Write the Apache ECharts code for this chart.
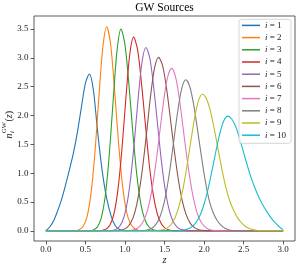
<!DOCTYPE html>
<html><head><meta charset="utf-8">
<script src="https://cdn.jsdelivr.net/npm/echarts@6/dist/echarts.min.js"></script>
<style>html,body{margin:0;padding:0;background:#fff}#c{width:299px;height:271px}</style>
</head><body><div id="c"></div>
<script>
const SERIES_NAMES = ['1','2','3','4','5','6','7','8','9','10'];
const COLORS = ['#1f77b4','#ff7f0e','#2ca02c','#d62728','#9467bd','#8c564b','#e377c2','#7f7f7f','#bcbd22','#17becf'];
const X_TICKS = [0,0.5,1,1.5,2,2.5,3];
const Y_TICKS = [0,0.5,1,1.5,2,2.5,3,3.5];

const Z1 = [0,0.05,0.10,0.15,0.20,0.25,0.30,0.35,0.40,0.45,0.50,0.55,0.60,0.65,0.70,0.75,0.80,0.85,0.90,0.95,1.0,3.0];
const V1 = [0,0.07,0.18,0.35,0.55,0.80,1.07,1.36,1.72,2.15,2.56,2.72,2.45,1.78,1.17,0.70,0.38,0.16,0.05,0.012,0,0];
const Z2 = [0,0.37,0.42,0.47,0.52,0.57,0.62,0.67,0.72,0.77,0.82,0.87,0.92,0.97,1.02,1.07,1.12,1.17,1.22,3.0];
const V2 = [0,0,0.02,0.074,0.24,0.64,1.35,2.31,3.18,3.54,3.22,2.42,1.51,0.78,0.33,0.12,0.04,0.01,0,0];
const Z3 = [0,0.55,0.60,0.65,0.70,0.75,0.80,0.85,0.90,0.95,1.00,1.05,1.10,1.15,1.20,1.25,1.30,1.35,1.40,1.45,3.0];
const V3 = [0,0,0.015,0.063,0.22,0.59,1.29,2.24,3.13,3.50,3.23,2.54,1.70,0.97,0.47,0.20,0.07,0.021,0.005,0,0];
const Z4 = [0,0.66,0.71,0.76,0.81,0.86,0.91,0.96,1.01,1.06,1.11,1.16,1.21,1.26,1.31,1.36,1.41,1.46,1.51,1.56,1.61,3.0];
const V4 = [0,0,0.006,0.028,0.10,0.29,0.70,1.39,2.27,3.05,3.36,3.14,2.55,1.82,1.12,0.61,0.29,0.12,0.042,0.013,0,0];
const Z5 = [0,0.815,0.865,0.915,0.965,1.015,1.065,1.115,1.165,1.215,1.265,1.315,1.365,1.415,1.465,1.515,1.565,1.615,1.665,1.715,1.765,1.815,3.0];
const V5 = [0,0,0.015,0.052,0.153,0.39,0.83,1.49,2.27,2.92,3.18,2.99,2.47,1.81,1.16,0.66,0.33,0.147,0.056,0.02,0.006,0,0];
const Z6 = [0,0.925,0.975,1.025,1.075,1.125,1.175,1.225,1.275,1.325,1.375,1.425,1.475,1.525,1.575,1.625,1.675,1.725,1.775,1.825,1.875,1.925,1.975,2.025,3.0];
const V6 = [0,0,0.02,0.056,0.143,0.32,0.64,1.12,1.72,2.35,2.83,3.01,2.87,2.48,1.94,1.38,0.89,0.52,0.275,0.132,0.058,0.023,0.008,0,0];
const Z7 = [0,1.04,1.09,1.14,1.19,1.24,1.29,1.34,1.39,1.44,1.49,1.54,1.59,1.64,1.69,1.74,1.79,1.84,1.89,1.94,1.99,2.04,2.09,2.14,2.19,3.0];
const V7 = [0,0,0.011,0.031,0.081,0.185,0.38,0.70,1.16,1.71,2.26,2.67,2.82,2.67,2.27,1.73,1.20,0.75,0.42,0.21,0.10,0.04,0.015,0.004,0,0];
const Z8 = [0,1.22,1.27,1.32,1.37,1.42,1.47,1.52,1.57,1.62,1.67,1.72,1.77,1.82,1.87,1.92,1.97,2.02,2.07,2.12,2.17,2.22,2.27,2.32,2.37,2.42,3.0];
const V8 = [0,0,0.010,0.029,0.075,0.172,0.354,0.65,1.08,1.59,2.10,2.48,2.62,2.50,2.18,1.73,1.26,0.83,0.50,0.30,0.17,0.09,0.04,0.015,0.005,0,0];
const Z9 = [0,1.38,1.43,1.48,1.53,1.58,1.63,1.68,1.73,1.78,1.83,1.88,1.93,1.98,2.03,2.08,2.13,2.18,2.23,2.28,2.33,2.38,2.43,2.48,2.53,2.58,2.63,2.68,2.73,3.0];
const V9 = [0,0,0.006,0.018,0.046,0.104,0.217,0.41,0.70,1.09,1.53,1.95,2.26,2.37,2.29,2.08,1.76,1.40,1.04,0.73,0.50,0.34,0.21,0.13,0.07,0.035,0.015,0.005,0,0];
const Z10 = [0,1.65,1.70,1.75,1.80,1.85,1.90,1.95,2.00,2.05,2.10,2.15,2.20,2.25,2.30,2.35,2.40,2.45,2.50,2.55,2.60,2.65,2.70,2.75,2.80,2.85,2.90,2.95,3.0];
const V10 = [0,0,0.006,0.014,0.034,0.073,0.146,0.27,0.46,0.72,1.04,1.38,1.69,1.91,1.99,1.94,1.81,1.60,1.36,1.12,0.90,0.72,0.56,0.43,0.32,0.22,0.14,0.07,0.02];

const ZS = [Z1,Z2,Z3,Z4,Z5,Z6,Z7,Z8,Z9,Z10];
const VS = [V1,V2,V3,V4,V5,V6,V7,V8,V9,V10];
const FONT = '"Liberation Serif", "DejaVu Serif", serif';

const chart = echarts.init(document.getElementById('c'), null, {renderer: 'canvas'});
const series = SERIES_NAMES.map((n, k) => ({
  name: n, type: 'line', symbol: 'none', showSymbol: false, smooth: 0.3,
  animation: false, color: COLORS[k],
  lineStyle: {width: 1.1, color: COLORS[k]},
  data: ZS[k].map((z, j) => [z, VS[k][j]])
}));

chart.setOption({
  animation: false,
  grid: {left: 34, top: 16, width: 261, height: 225, show: true, borderColor: '#333', borderWidth: 0.8, backgroundColor: 'transparent'},
  xAxis: {
    type: 'value', min: -0.15, max: 3.15,
    axisLine: {show: false, onZero: false},
    splitLine: {show: false},
    axisTick: {show: true, length: 3.5, customValues: X_TICKS, lineStyle: {color: '#333', width: 0.8}},
    axisLabel: {customValues: X_TICKS, formatter: v => v.toFixed(1), fontFamily: FONT, fontSize: 9, color: '#222', margin: 4.5}
  },
  yAxis: {
    type: 'value', min: -0.1775, max: 3.7275,
    axisLine: {show: false, onZero: false},
    splitLine: {show: false},
    axisTick: {show: true, length: 3.5, customValues: Y_TICKS, lineStyle: {color: '#333', width: 0.8}},
    axisLabel: {customValues: Y_TICKS, formatter: v => v.toFixed(1), fontFamily: FONT, fontSize: 9, color: '#222', margin: 5.5}
  },
  legend: {
    orient: 'vertical', left: 239, top: 19.3,
    padding: [0, 5, 2, 3], itemGap: 0, itemWidth: 18, itemHeight: 1.5, icon: 'rect',
    backgroundColor: 'rgba(255,255,255,0.8)', borderColor: '#cccccc', borderWidth: 0.8, borderRadius: 2.5,
    data: SERIES_NAMES,
    formatter: n => '{it|i} = ' + n,
    textStyle: {fontFamily: FONT, fontSize: 9, lineHeight: 12.2, color: '#222',
      rich: {it: {fontFamily: FONT, fontSize: 9, fontStyle: 'italic', color: '#222', lineHeight: 12.2}}}
  },
  graphic: [
    {type: 'text', x: 164.5, y: 8, style: {text: 'GW Sources', font: '11.5px ' + FONT, fill: '#000', align: 'center', verticalAlign: 'middle'}},
    {type: 'text', x: 164.5, y: 260.5, style: {text: 'z', font: 'italic 10.5px ' + FONT, fill: '#222', align: 'center', verticalAlign: 'middle'}},
    {type: 'group', x: 10, y: 124, rotation: Math.PI / 2, children: [
      {type: 'text', x: -14.5, y: -0.5, style: {text: 'n', font: 'italic 10px ' + FONT, fill: '#222', align: 'left', verticalAlign: 'middle'}},
      {type: 'text', x: -9, y: -5.5, style: {text: 'GW', font: '6.5px ' + FONT, fill: '#222', align: 'left', verticalAlign: 'middle'}},
      {type: 'text', x: -9, y: 2.5, style: {text: 'i', font: 'italic 6.5px ' + FONT, fill: '#222', align: 'left', verticalAlign: 'middle'}},
      {type: 'text', x: 2.5, y: -0.5, style: {text: '{a|(}{b|z}{a|)}', font: '10px ' + FONT, fill: '#222', align: 'left', verticalAlign: 'middle',
        rich: {a: {fontFamily: FONT, fontSize: 10, fill: '#222'}, b: {fontFamily: FONT, fontSize: 10, fontStyle: 'italic', fill: '#222'}}}}
    ]}
  ],
  series: series
});
</script></body></html>
